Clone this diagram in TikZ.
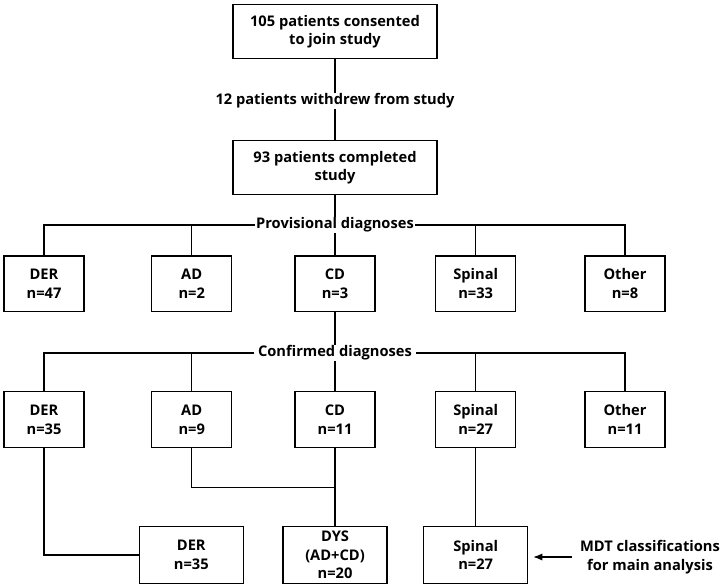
\documentclass[tikz,border=0pt]{standalone}
\usepackage{fontspec}
\setmainfont{Open Sans}
\usetikzlibrary{arrows.meta,backgrounds}
\begin{document}
\begin{tikzpicture}[x=0.75pt,y=-0.75pt,
  every node/.style={font=\fontsize{11}{14}\selectfont\bfseries, align=center},
  box/.style={draw, line width=1.1pt, minimum width=80*0.75pt, minimum height=55.6*0.75pt, inner sep=0pt},
  wbox/.style={box, minimum width=104*0.75pt, minimum height=56.5*0.75pt},
  tbox/.style={box, minimum width=204*0.75pt, minimum height=54*0.75pt},
  lbl/.style={fill=white, inner xsep=1pt, inner ysep=0.5pt},
  conn/.style={line width=1.1pt}]
\useasboundingbox (0,0) rectangle (724,587);
% top
\node[tbox] (top) at (335,31.7) {105 patients consented\\to join study};
\node[lbl] (wd) at (335,101) {12 patients withdrew from study};
\node[tbox] (comp) at (335,167.7) {93 patients completed\\study};
\node[lbl] (prov) at (335,225) {Provisional diagnoses};
% row 1
\node[box] (der1) at (44,283.8) {DER\\n=47};
\node[box] (ad1) at (191.7,283.8) {AD\\n=2};
\node[box] (cd1) at (335,283.8) {CD\\n=3};
\node[box] (sp1) at (475.7,283.8) {Spinal\\n=33};
\node[box] (ot1) at (625,283.8) {Other\\n=8};
\node[lbl, inner xsep=3pt] (conf) at (335,353) {Confirmed diagnoses};
% row 2
\node[box] (der2) at (44,419.5) {DER\\n=35};
\node[box] (ad2) at (191.7,419.5) {AD\\n=9};
\node[box] (cd2) at (335,419.5) {CD\\n=11};
\node[box] (sp2) at (475.7,419.5) {Spinal\\n=27};
\node[box] (ot2) at (625,419.5) {Other\\n=11};
\coordinate (join) at (335,487.3);
% bottom
\node[wbox] (derB) at (191.3,555) {DER\\n=35};
\node[wbox] (dys) at (335,555) {DYS\\(AD+CD)\\n=20};
\node[wbox] (spB) at (475.7,555) {Spinal\\n=27};
\node[inner xsep=6pt] (mdt) at (650,557) {MDT classifications\\for main analysis};
\begin{pgfonlayer}{background}
\draw[conn] (top.south) -- (comp.north);
\draw[conn] (comp.south) -- (cd1.north);
\draw[conn] (der1.north) -- (der1.north |- prov) -- (ot1.north |- prov) -- (ot1.north);
\draw[conn] (ad1.north) -- (ad1.north |- prov);
\draw[conn] (sp1.north) -- (sp1.north |- prov);
\draw[conn] (cd1.south) -- (cd2.north);
\draw[conn] (der2.north) -- (der2.north |- conf) -- (ot2.north |- conf) -- (ot2.north);
\draw[conn] (ad2.north) -- (ad2.north |- conf);
\draw[conn] (sp2.north) -- (sp2.north |- conf);
\draw[conn] (ad2.south) |- (join);
\draw[conn] (cd2.south) -- (dys.north);
\draw[conn] (der2.south) |- (derB.west);
\draw[conn] (sp2.south) -- (spB.north);
\end{pgfonlayer}
\draw[conn, -{Latex[length=7pt,width=5.5pt]}, shorten >=3.5pt] (mdt.west) -- (mdt.west -| spB.east);
\end{tikzpicture}
\end{document}
